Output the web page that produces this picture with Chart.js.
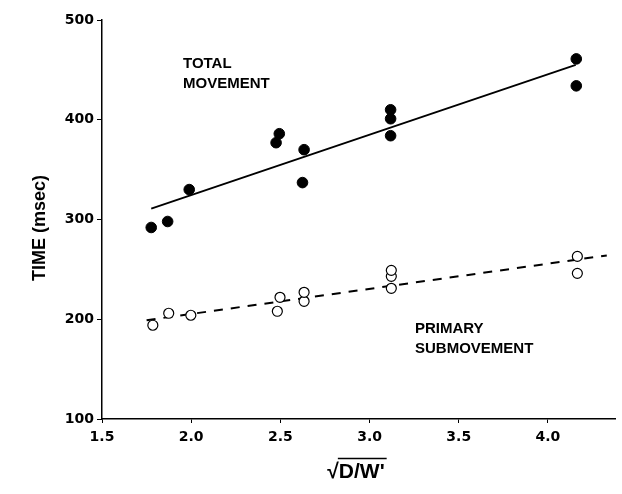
<!DOCTYPE html>
<html>
<head>
<meta charset="utf-8">
<script src="https://cdn.jsdelivr.net/npm/chart.js@4/dist/chart.umd.min.js"></script>
<style>
  html, body { margin: 0; padding: 0; background: #fff; }
  #wrap { width: 622px; height: 494px; position: relative; }
</style>
</head>
<body>
<div id="wrap"><canvas id="chart"></canvas></div>
<script>
// Total movement (filled circles)
const totalX = [1.776, 1.868, 1.989, 2.476, 2.494, 2.624, 2.633, 3.118, 3.118, 3.118, 4.159, 4.159];
const totalY = [292, 298, 330, 377, 386, 337, 370, 410, 401, 384, 461, 434];

// Primary submovement (open circles)
const primaryX = [1.785, 1.874, 1.998, 2.483, 2.498, 2.633, 2.633, 3.122, 3.122, 3.122, 4.165, 4.165];
const primaryY = [194, 206, 204, 208, 222, 218, 227, 231, 243, 249, 246, 263];

// fitted lines (end points)
const totalFitX = [1.776, 4.156];
const totalFitY = [311, 455];
const primaryFitX = [1.75, 4.33];
const primaryFitY = [199, 264];

// tick labels
const xTicks = [1.5, 2.0, 2.5, 3.0, 3.5, 4.0];
const yTicks = [100, 200, 300, 400, 500];

const toPts = (xs, ys) => xs.map((x, i) => ({ x: x, y: ys[i] }));

// texte sur le graphique + titres des axes
const textPlugin = {
    id: 'texts',
    afterDraw(chart) {
        const c = chart.ctx;
        c.save();
        c.fillStyle = '#000';
        c.strokeStyle = '#000';
        c.font = 'bold 15px "Liberation Sans"';
        c.textAlign = 'left';
        c.textBaseline = 'alphabetic';
        c.fillText('TOTAL', 183, 68);
        c.fillText('MOVEMENT', 183, 88);
        c.fillText('PRIMARY', 415, 333);
        c.fillText('SUBMOVEMENT', 415, 353);

        // axe y
        c.save();
        c.translate(40, 228);
        c.rotate(-Math.PI / 2);
        c.textAlign = 'center';
        c.textBaseline = 'middle';
        c.font = 'bold 18px "Liberation Sans"';
        c.fillText('TIME (msec)', 0, 0);
        c.restore();

        // axe x : racine
        c.font = 'bold 21px "Liberation Sans"';
        c.textAlign = 'left';
        const label = '√D/W\'';
        const w = c.measureText(label).width;
        const x0 = 356 - w / 2;
        c.fillText(label, x0, 478);
        const rw = c.measureText('√').width;
        c.beginPath();
        c.lineWidth = 1.3;
        c.moveTo(x0 + rw - 1, 458.5);
        c.lineTo(x0 + w + 2, 458.5);
        c.stroke();
        c.restore();
    }
};

new Chart(document.getElementById('chart'), {
    type: 'scatter',
    data: {
        datasets: [
            {
                label: 'Total movement',
                data: toPts(totalX, totalY),
                backgroundColor: '#000',
                borderColor: '#000',
                pointRadius: 5.3,
                borderWidth: 1
            },
            {
                label: 'Primary submovement',
                data: toPts(primaryX, primaryY),
                backgroundColor: '#fff',
                borderColor: '#000',
                pointRadius: 5,
                borderWidth: 1.2
            },
            {
                type: 'line',
                label: 'Total fit',
                data: toPts(totalFitX, totalFitY),
                borderColor: '#000',
                borderWidth: 1.8,
                pointRadius: 0,
                fill: false
            },
            {
                type: 'line',
                label: 'Primary fit',
                data: toPts(primaryFitX, primaryFitY),
                borderColor: '#000',
                borderWidth: 2,
                borderDash: [9, 8],
                pointRadius: 0,
                fill: false
            }
        ]
    },
    options: {
        responsive: true,
        maintainAspectRatio: false,
        animation: false,
        layout: { padding: { left: 0, right: 1, top: 20, bottom: 0 } },
        plugins: {
            legend: { display: false },
            tooltip: { enabled: false }
        },
        scales: {
            x: {
                type: 'linear',
                min: 1.5,
                max: 4.38,
                afterBuildTicks: s => { s.ticks = xTicks.map(v => ({ value: v })); },
                afterFit: s => { s.height = 75; s.paddingLeft = 0; s.paddingRight = 0; },
                border: { display: true, color: '#000', width: 1.5 },
                grid: { display: true, drawOnChartArea: false, color: '#000', tickLength: 4 },
                ticks: {
                    color: '#000',
                    padding: 6,
                    font: { family: 'DejaVu Sans', weight: 'bold', size: 14 },
                    callback: v => v.toFixed(1)
                }
            },
            y: {
                type: 'linear',
                min: 100,
                max: 500,
                afterBuildTicks: s => { s.ticks = yTicks.map(v => ({ value: v })); },
                afterFit: s => { s.width = 102; },
                border: { display: true, color: '#000', width: 1.5 },
                grid: { display: true, drawOnChartArea: false, color: '#000', tickLength: 5 },
                ticks: {
                    color: '#000',
                    padding: 3,
                    font: { family: 'DejaVu Sans', weight: 'bold', size: 14 }
                }
            }
        }
    },
    plugins: [textPlugin]
});
</script>
</body>
</html>
